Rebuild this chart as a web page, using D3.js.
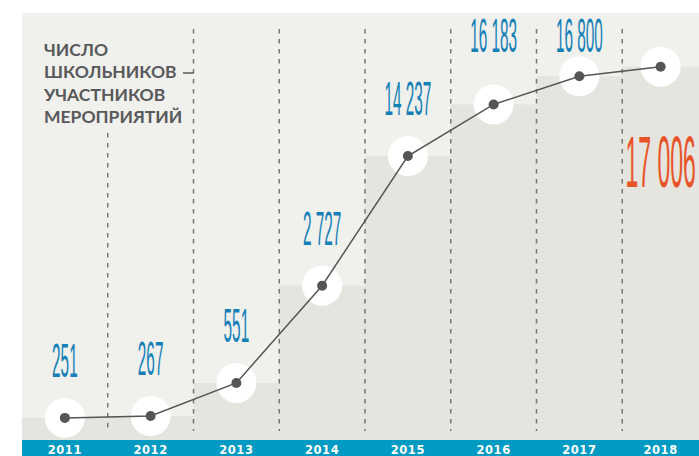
<!DOCTYPE html>
<html>
<head>
<meta charset="utf-8">
<script src="https://cdn.jsdelivr.net/npm/d3@7"></script>
<style>
  html, body { margin: 0; padding: 0; background: #fff; }
  svg { display: block; }
</style>
</head>
<body>
<svg id="chart" width="699" height="456"></svg>
<script>
const years = ['2011', '2012', '2013', '2014', '2015', '2016', '2017', '2018']
const pupils = [251, 267, 551, 2727, 14237, 16183, 16800, 17006]
const valueLabels = ['251', '267', '551', '2 727', '14 237', '16 183', '16 800', '17 006']
const titleLines = ['ЧИСЛО', 'ШКОЛЬНИКОВ', 'УЧАСТНИКОВ', 'МЕРОПРИЯТИЙ']

const width = 699
const height = 456
const left = 22
const panelTop = 13
const baseY = 440

const svg = d3.select('#chart')

// columns run past the right edge, the last one is cut
const x = d3.scaleBand()
  .domain(years)
  .range([left, 708])
  .padding(0)

// the infographic stretches the growth unevenly, so the scale is piecewise
const y = d3.scaleLinear()
  .domain([250, 550, 2700, 14200, 16200, 17000])
  .range([418, 383, 286, 157, 104, 67])

// centre of the visible part of a column
const cx = d => (Math.max(x(d), left) + Math.min(x(d) + x.bandwidth(), width)) / 2

// panel
svg.append('rect')
  .attr('x', left)
  .attr('y', panelTop)
  .attr('width', width - left)
  .attr('height', baseY - panelTop)
  .attr('fill', '#f0f0ec')

// steps
svg.selectAll('.step')
  .data(years)
  .enter().append('rect')
  .attr('class', 'step')
  .attr('x', d => x(d))
  .attr('width', x.bandwidth())
  .attr('y', (d, i) => y(pupils[i]))
  .attr('height', (d, i) => baseY - y(pupils[i]))
  .attr('fill', '#e5e4de')

// dashed separators
svg.selectAll('.sep')
  .data(years.slice(1))
  .enter().append('line')
  .attr('class', 'sep')
  .attr('x1', d => x(d))
  .attr('x2', d => x(d))
  .attr('y1', (d, i) => i === 0 ? 133 : 29)
  .attr('y2', 431)
  .attr('stroke', '#767676')
  .attr('stroke-width', 1.5)
  .attr('stroke-dasharray', '4.5,5.5')

// title
const title = svg.append('text')
  .attr('fill', '#58595b')
  .attr('font-family', 'Lato, "Open Sans", sans-serif')
  .attr('font-weight', 700)
  .attr('font-size', 17.5)

title.selectAll('tspan')
  .data(titleLines)
  .enter().append('tspan')
  .attr('x', 44)
  .attr('y', (d, i) => 56 + i * 22.4)
  .text(d => d)

svg.append('line')
  .attr('x1', 183)
  .attr('x2', x('2013'))
  .attr('y1', 73)
  .attr('y2', 73)
  .attr('stroke', '#58595b')
  .attr('stroke-width', 1.5)

// halos
svg.selectAll('.halo')
  .data(years)
  .enter().append('circle')
  .attr('class', 'halo')
  .attr('cx', d => cx(d))
  .attr('cy', (d, i) => y(pupils[i]))
  .attr('r', 20)
  .attr('fill', '#fff')

// line
const line = d3.line()
  .x(d => cx(d))
  .y((d, i) => y(pupils[i]))

svg.append('path')
  .datum(years)
  .attr('d', line)
  .attr('fill', 'none')
  .attr('stroke', '#555')
  .attr('stroke-width', 1.5)

svg.selectAll('.dot')
  .data(years)
  .enter().append('circle')
  .attr('class', 'dot')
  .attr('cx', d => cx(d))
  .attr('cy', (d, i) => y(pupils[i]))
  .attr('r', 5)
  .attr('fill', '#555')

// value labels
const last = years.length - 1
function labelY(i) {
  const py = y(pupils[i])
  if (i === last) return py + 120
  return py - 41 < 70 ? 52 : py - 41
}

svg.selectAll('.value')
  .data(years)
  .enter().append('g')
  .attr('class', 'value')
  .attr('transform', (d, i) => `translate(${cx(d)}, ${labelY(i)}) scale(0.32, 1)`)
  .append('text')
  .attr('text-anchor', 'middle')
  .attr('font-family', '"Liberation Sans", Arial, sans-serif')
  .attr('font-size', (d, i) => i === last ? 72 : 48)
  .attr('fill', (d, i) => i === last ? '#e8542a' : '#1580b8')
  .text((d, i) => valueLabels[i])

// bottom band
svg.append('rect')
  .attr('x', left)
  .attr('y', baseY)
  .attr('width', width - left)
  .attr('height', height - baseY)
  .attr('fill', '#019ac3')

svg.selectAll('.year')
  .data(years)
  .enter().append('text')
  .attr('class', 'year')
  .attr('x', d => cx(d))
  .attr('y', 454)
  .attr('text-anchor', 'middle')
  .attr('fill', '#fff')
  .attr('font-family', '"DejaVu Sans", Verdana, sans-serif')
  .attr('font-weight', 'bold')
  .attr('font-size', 11.5)
  .attr('letter-spacing', 0.6)
  .text(d => d)
</script>
</body>
</html>
